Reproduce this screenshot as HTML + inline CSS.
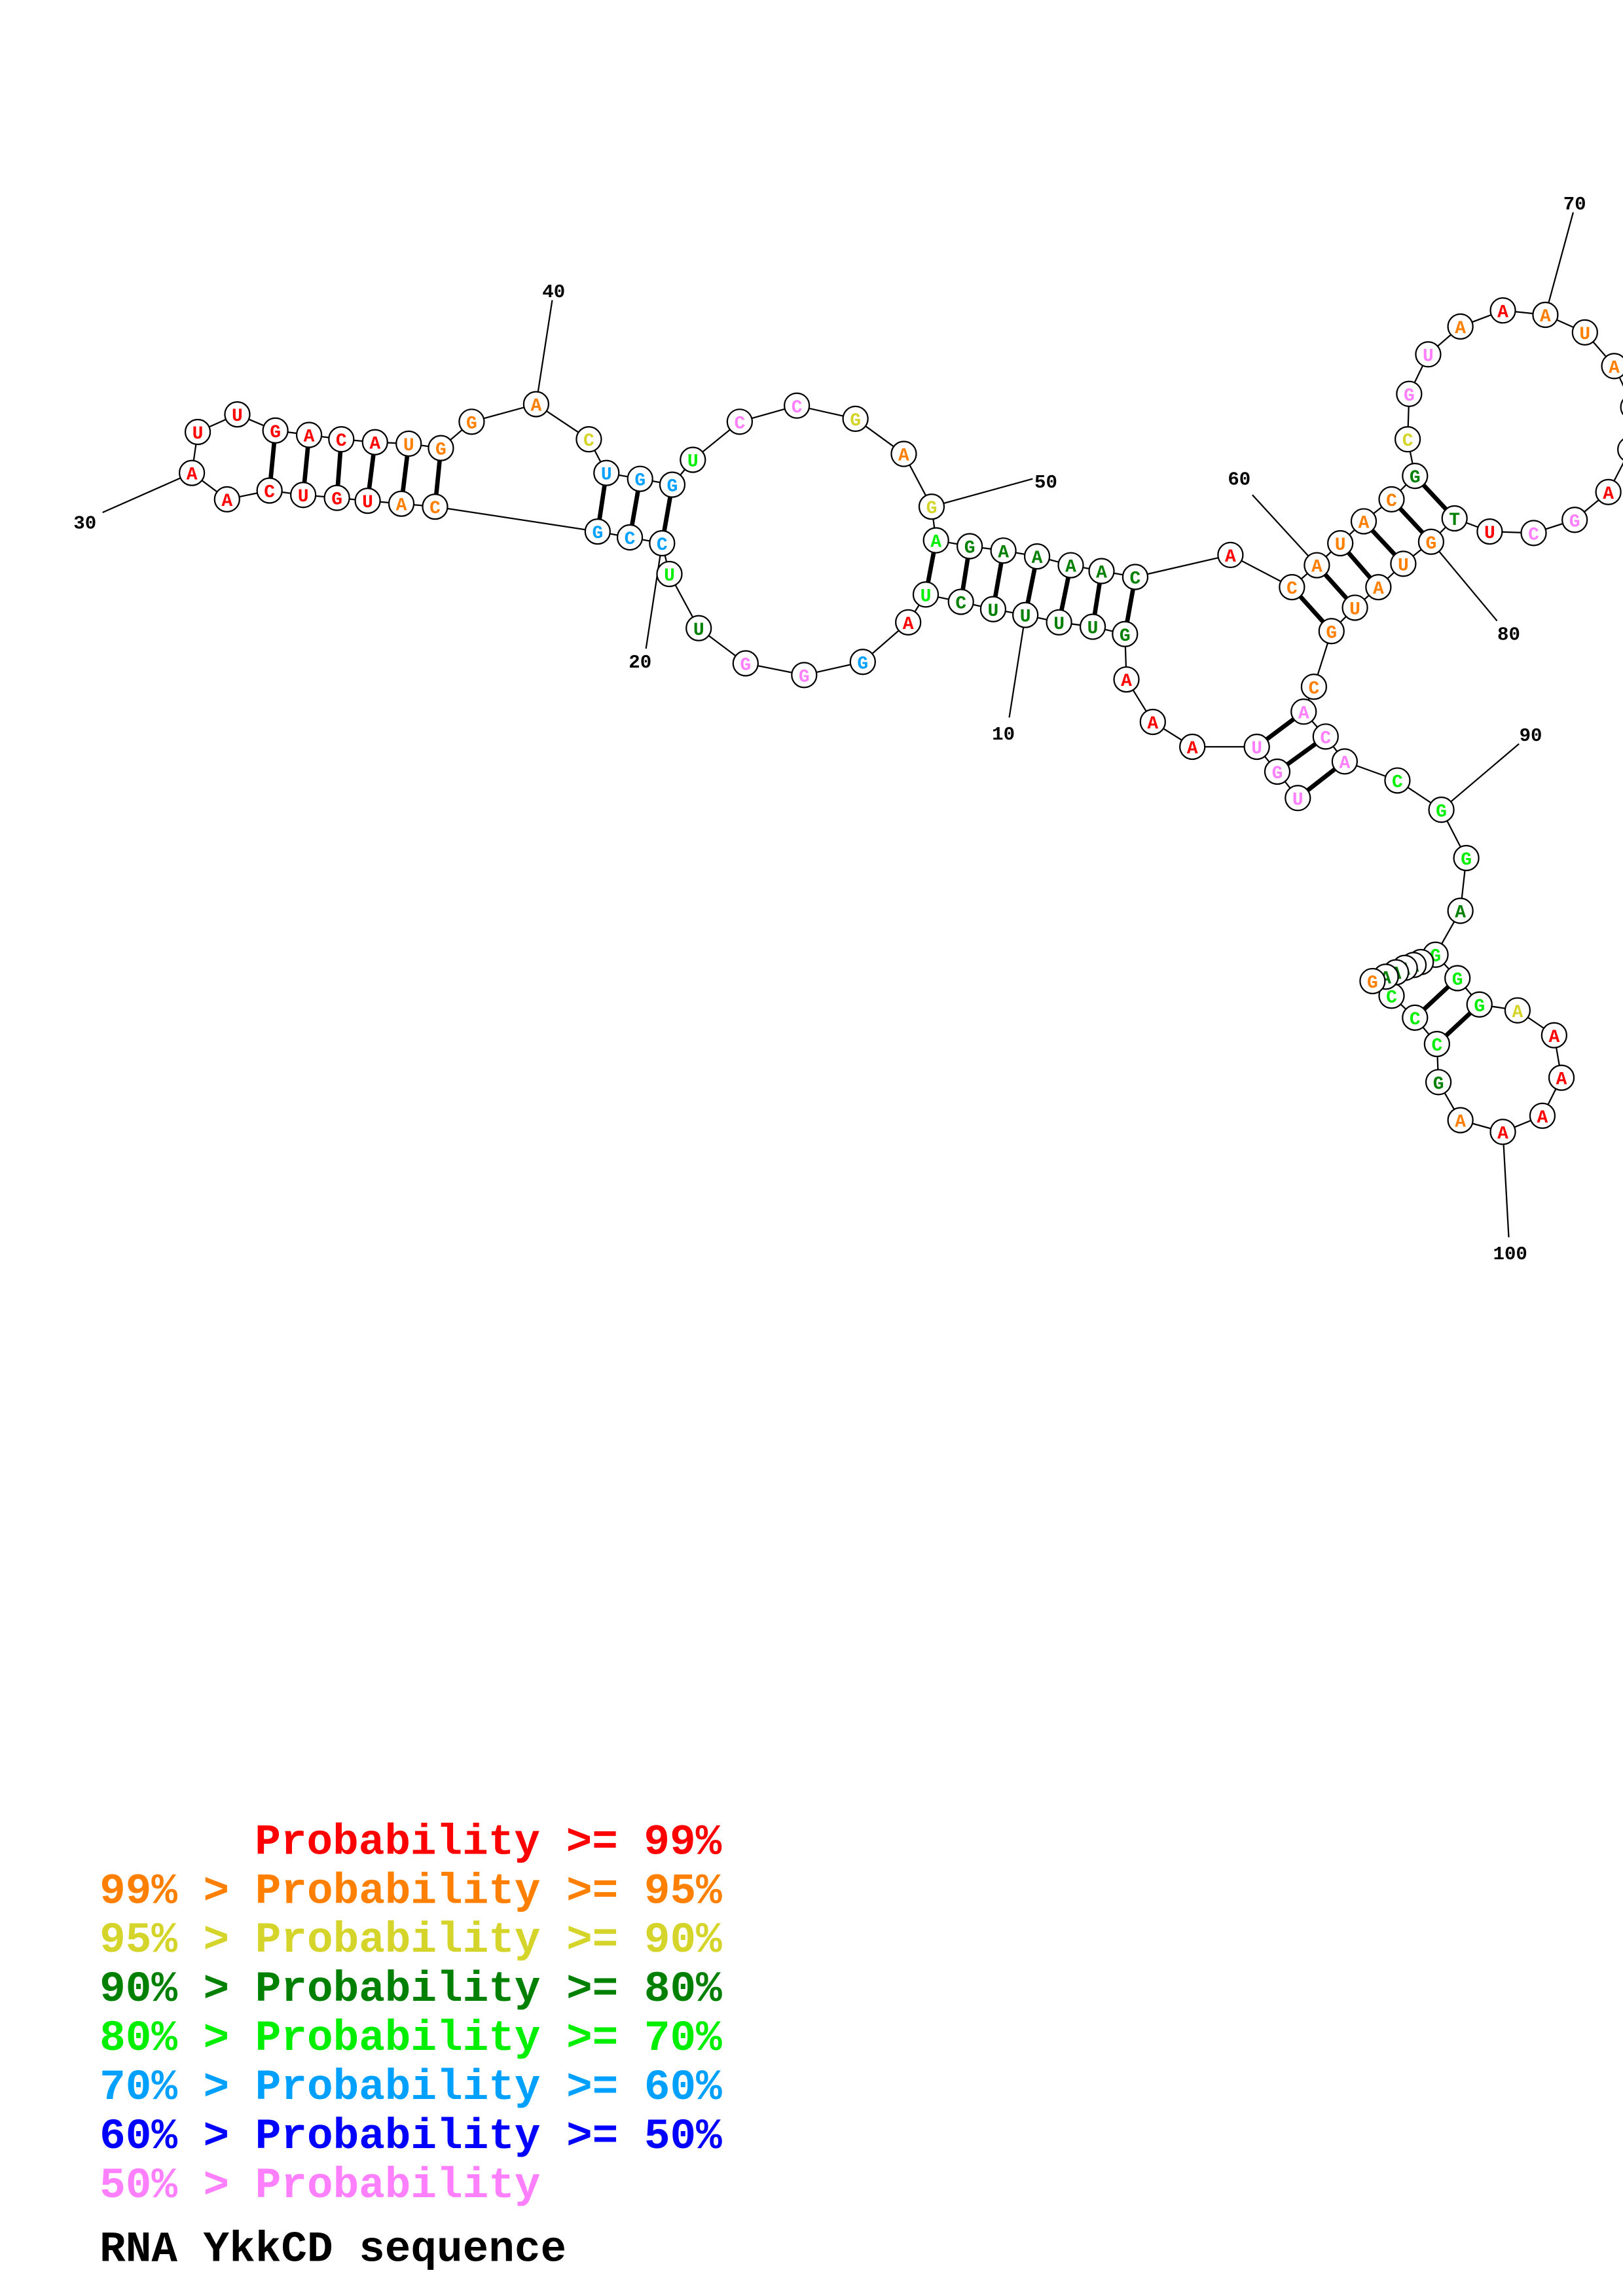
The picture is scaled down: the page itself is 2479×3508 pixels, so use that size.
<!DOCTYPE html>
<html><head><meta charset="utf-8"><style>
html,body{margin:0;padding:0;background:#fff}
svg{display:block}
.n circle{fill:#fff;stroke:#000;stroke-width:1}
.n text{font-family:"Liberation Mono",monospace;font-weight:bold;font-size:12.5px;text-anchor:middle}
.lb{font-family:"Liberation Mono",monospace;font-weight:bold;font-size:13px;fill:#000;text-anchor:middle}
.lg{font-family:"Liberation Mono",monospace;font-weight:bold;font-size:29.5px}
.R{fill:#ff0000}.O{fill:#ff8000}.Y{fill:#d4d42a}.D{fill:#008000}.L{fill:#00ee00}.S{fill:#00a0ff}.P{fill:#ff80ff}.B{fill:#0000ff}
</style></head><body>
<svg width="2479" height="3508" viewBox="0 0 1108 1568" preserveAspectRatio="none" xmlns="http://www.w3.org/2000/svg">
<!-- label lines -->
<g stroke="#000" stroke-width="1" fill="none">
<line x1="131" y1="323" x2="70" y2="350"/>
<line x1="366" y1="276" x2="377" y2="205"/>
<line x1="452" y1="371" x2="441" y2="443"/>
<line x1="636" y1="346" x2="705" y2="327"/>
<line x1="700" y1="420" x2="689" y2="490"/>
<line x1="899" y1="386" x2="855" y2="338"/>
<line x1="1055" y1="215" x2="1074" y2="145"/>
<line x1="977" y1="370" x2="1022" y2="424"/>
<line x1="984" y1="553" x2="1037" y2="508"/>
<line x1="1026" y1="773" x2="1030" y2="845"/>
<!-- backbone -->
<polyline points="886,545 872,527 858,510 814,510 787,493 769,464 768,433 746,428 723,425 700,420 678,416 656,411 632,406 620,425 589,452 549,461 509,453 477,429 457,392 452,371 430,367 408,363 297,346 274,344 251,342 230,340 207,338 184,335 155,341 131,323 135,295 162,283 188,294 211,297 233,300 256,302 279,303 301,306 322,288 366,276 402,300 414,323 437,327 459,331 473,314 505,288 544,277 584,286 617,310 636,346 639,369 662,373 685,376 708,380 731,386 752,390 775,394 840,379 882,401 899,386 915,371 931,356 950,341 966,325 961,300 962,269 975,242 997,223 1026,212 1055,215 1082,227 1102,250 1115,278 1113,307 1098,336 1075,355 1047,364 1017,363 993,354 977,370 958,385 941,401 925,415 909,431 897,469 890,486 905,503 918,520 954,533 984,553 1001,586 997,622 980,652 995,668 1010,686 1036,690 1061,707 1066,736 1053,762 1026,773 997,765 982,739 981,713 966,695 950,680 937,670"/>
</g>
<!-- pairs -->
<g stroke="#000" stroke-width="3">
<line x1="188" y1="294" x2="184" y2="335"/><line x1="211" y1="297" x2="207" y2="338"/><line x1="233" y1="300" x2="230" y2="340"/><line x1="256" y1="302" x2="251" y2="342"/><line x1="279" y1="303" x2="274" y2="344"/><line x1="301" y1="306" x2="297" y2="346"/>
<line x1="414" y1="323" x2="408" y2="363"/><line x1="437" y1="327" x2="430" y2="367"/><line x1="459" y1="331" x2="452" y2="371"/>
<line x1="639" y1="369" x2="632" y2="406"/><line x1="662" y1="373" x2="656" y2="411"/><line x1="685" y1="376" x2="678" y2="416"/><line x1="708" y1="380" x2="700" y2="420"/><line x1="731" y1="386" x2="723" y2="425"/><line x1="752" y1="390" x2="746" y2="428"/><line x1="775" y1="394" x2="768" y2="433"/>
<line x1="882" y1="401" x2="909" y2="431"/><line x1="899" y1="386" x2="925" y2="415"/><line x1="915" y1="371" x2="941" y2="401"/><line x1="931" y1="356" x2="958" y2="385"/><line x1="950" y1="341" x2="977" y2="370"/><line x1="966" y1="325" x2="993" y2="354"/>
<line x1="858" y1="510" x2="890" y2="486"/><line x1="872" y1="527" x2="905" y2="503"/><line x1="886" y1="545" x2="918" y2="520"/>
<line x1="966" y1="695" x2="995" y2="668"/><line x1="981" y1="713" x2="1010" y2="686"/>
</g>
<g class="n">
<circle cx="1115" cy="278" r="8.5"/><circle cx="1113" cy="307" r="8.5"/>
<circle cx="131" cy="323" r="8.5"/><text x="131" y="327.5" class="R">A</text>
<circle cx="135" cy="295" r="8.5"/><text x="135" y="299.5" class="R">U</text>
<circle cx="162" cy="283" r="8.5"/><text x="162" y="287.5" class="R">U</text>
<circle cx="188" cy="294" r="8.5"/><text x="188" y="298.5" class="R">G</text>
<circle cx="211" cy="297" r="8.5"/><text x="211" y="301.5" class="R">A</text>
<circle cx="233" cy="300" r="8.5"/><text x="233" y="304.5" class="R">C</text>
<circle cx="256" cy="302" r="8.5"/><text x="256" y="306.5" class="R">A</text>
<circle cx="279" cy="303" r="8.5"/><text x="279" y="307.5" class="O">U</text>
<circle cx="301" cy="306" r="8.5"/><text x="301" y="310.5" class="O">G</text>
<circle cx="322" cy="288" r="8.5"/><text x="322" y="292.5" class="O">G</text>
<circle cx="366" cy="276" r="8.5"/><text x="366" y="280.5" class="O">A</text>
<circle cx="402" cy="300" r="8.5"/><text x="402" y="304.5" class="Y">C</text>
<circle cx="414" cy="323" r="8.5"/><text x="414" y="327.5" class="S">U</text>
<circle cx="437" cy="327" r="8.5"/><text x="437" y="331.5" class="S">G</text>
<circle cx="459" cy="331" r="8.5"/><text x="459" y="335.5" class="S">G</text>
<circle cx="473" cy="314" r="8.5"/><text x="473" y="318.5" class="L">U</text>
<circle cx="505" cy="288" r="8.5"/><text x="505" y="292.5" class="P">C</text>
<circle cx="544" cy="277" r="8.5"/><text x="544" y="281.5" class="P">C</text>
<circle cx="584" cy="286" r="8.5"/><text x="584" y="290.5" class="Y">G</text>
<circle cx="617" cy="310" r="8.5"/><text x="617" y="314.5" class="O">A</text>
<circle cx="636" cy="346" r="8.5"/><text x="636" y="350.5" class="Y">G</text>
<circle cx="639" cy="369" r="8.5"/><text x="639" y="373.5" class="L">A</text>
<circle cx="662" cy="373" r="8.5"/><text x="662" y="377.5" class="D">G</text>
<circle cx="685" cy="376" r="8.5"/><text x="685" y="380.5" class="D">A</text>
<circle cx="708" cy="380" r="8.5"/><text x="708" y="384.5" class="D">A</text>
<circle cx="731" cy="386" r="8.5"/><text x="731" y="390.5" class="D">A</text>
<circle cx="752" cy="390" r="8.5"/><text x="752" y="394.5" class="D">A</text>
<circle cx="775" cy="394" r="8.5"/><text x="775" y="398.5" class="D">C</text>
<circle cx="840" cy="379" r="8.5"/><text x="840" y="383.5" class="R">A</text>
<circle cx="882" cy="401" r="8.5"/><text x="882" y="405.5" class="O">C</text>
<circle cx="899" cy="386" r="8.5"/><text x="899" y="390.5" class="O">A</text>
<circle cx="915" cy="371" r="8.5"/><text x="915" y="375.5" class="O">U</text>
<circle cx="931" cy="356" r="8.5"/><text x="931" y="360.5" class="O">A</text>
<circle cx="950" cy="341" r="8.5"/><text x="950" y="345.5" class="O">C</text>
<circle cx="966" cy="325" r="8.5"/><text x="966" y="329.5" class="D">G</text>
<circle cx="961" cy="300" r="8.5"/><text x="961" y="304.5" class="Y">C</text>
<circle cx="962" cy="269" r="8.5"/><text x="962" y="273.5" class="P">G</text>
<circle cx="975" cy="242" r="8.5"/><text x="975" y="246.5" class="P">U</text>
<circle cx="997" cy="223" r="8.5"/><text x="997" y="227.5" class="O">A</text>
<circle cx="1026" cy="212" r="8.5"/><text x="1026" y="216.5" class="R">A</text>
<circle cx="1055" cy="215" r="8.5"/><text x="1055" y="219.5" class="O">A</text>
<circle cx="1082" cy="227" r="8.5"/><text x="1082" y="231.5" class="O">U</text>
<circle cx="1102" cy="250" r="8.5"/><text x="1102" y="254.5" class="O">A</text>
<circle cx="1098" cy="336" r="8.5"/><text x="1098" y="340.5" class="R">A</text>
<circle cx="1075" cy="355" r="8.5"/><text x="1075" y="359.5" class="P">G</text>
<circle cx="1047" cy="364" r="8.5"/><text x="1047" y="368.5" class="P">C</text>
<circle cx="1017" cy="363" r="8.5"/><text x="1017" y="367.5" class="R">U</text>
<circle cx="993" cy="354" r="8.5"/><text x="993" y="358.5" class="D">T</text>
<circle cx="977" cy="370" r="8.5"/><text x="977" y="374.5" class="O">G</text>
<circle cx="958" cy="385" r="8.5"/><text x="958" y="389.5" class="O">U</text>
<circle cx="941" cy="401" r="8.5"/><text x="941" y="405.5" class="O">A</text>
<circle cx="925" cy="415" r="8.5"/><text x="925" y="419.5" class="O">U</text>
<circle cx="909" cy="431" r="8.5"/><text x="909" y="435.5" class="O">G</text>
<circle cx="897" cy="469" r="8.5"/><text x="897" y="473.5" class="O">C</text>
<circle cx="890" cy="486" r="8.5"/><text x="890" y="490.5" class="P">A</text>
<circle cx="905" cy="503" r="8.5"/><text x="905" y="507.5" class="P">C</text>
<circle cx="918" cy="520" r="8.5"/><text x="918" y="524.5" class="P">A</text>
<circle cx="954" cy="533" r="8.5"/><text x="954" y="537.5" class="L">C</text>
<circle cx="984" cy="553" r="8.5"/><text x="984" y="557.5" class="L">G</text>
<circle cx="1001" cy="586" r="8.5"/><text x="1001" y="590.5" class="L">G</text>
<circle cx="997" cy="622" r="8.5"/><text x="997" y="626.5" class="D">A</text>
<circle cx="995" cy="668" r="8.5"/><text x="995" y="672.5" class="L">G</text>
<circle cx="1010" cy="686" r="8.5"/><text x="1010" y="690.5" class="L">G</text>
<circle cx="1036" cy="690" r="8.5"/><text x="1036" y="694.5" class="Y">A</text>
<circle cx="1061" cy="707" r="8.5"/><text x="1061" y="711.5" class="R">A</text>
<circle cx="1066" cy="736" r="8.5"/><text x="1066" y="740.5" class="R">A</text>
<circle cx="1053" cy="762" r="8.5"/><text x="1053" y="766.5" class="R">A</text>
<circle cx="1026" cy="773" r="8.5"/><text x="1026" y="777.5" class="R">A</text>
<circle cx="997" cy="765" r="8.5"/><text x="997" y="769.5" class="O">A</text>
<circle cx="982" cy="739" r="8.5"/><text x="982" y="743.5" class="D">G</text>
<circle cx="981" cy="713" r="8.5"/><text x="981" y="717.5" class="L">C</text>
<circle cx="966" cy="695" r="8.5"/><text x="966" y="699.5" class="L">C</text>
<circle cx="950" cy="680" r="8.5"/><text x="950" y="684.5" class="L">C</text>
<circle cx="980" cy="652" r="8.5"/><text x="980" y="656.5" class="L">G</text>
<circle cx="970" cy="657" r="8.5"/><text x="970" y="661.5" class="D">A</text>
<circle cx="965" cy="659" r="8.5"/><text x="965" y="663.5" class="D">A</text>
<circle cx="959" cy="661" r="8.5"/><text x="959" y="665.5" class="D">A</text>
<circle cx="953" cy="664" r="8.5"/><text x="953" y="668.5" class="D">A</text>
<circle cx="946" cy="667" r="8.5"/><text x="946" y="671.5" class="D">A</text>
<circle cx="937" cy="670" r="8.5"/><text x="937" y="674.5" class="O">G</text>
<circle cx="886" cy="545" r="8.5"/><text x="886" y="549.5" class="P">U</text>
<circle cx="872" cy="527" r="8.5"/><text x="872" y="531.5" class="P">G</text>
<circle cx="858" cy="510" r="8.5"/><text x="858" y="514.5" class="P">U</text>
<circle cx="814" cy="510" r="8.5"/><text x="814" y="514.5" class="R">A</text>
<circle cx="787" cy="493" r="8.5"/><text x="787" y="497.5" class="R">A</text>
<circle cx="769" cy="464" r="8.5"/><text x="769" y="468.5" class="R">A</text>
<circle cx="768" cy="433" r="8.5"/><text x="768" y="437.5" class="D">G</text>
<circle cx="746" cy="428" r="8.5"/><text x="746" y="432.5" class="D">U</text>
<circle cx="723" cy="425" r="8.5"/><text x="723" y="429.5" class="D">U</text>
<circle cx="700" cy="420" r="8.5"/><text x="700" y="424.5" class="D">U</text>
<circle cx="678" cy="416" r="8.5"/><text x="678" y="420.5" class="D">U</text>
<circle cx="656" cy="411" r="8.5"/><text x="656" y="415.5" class="D">C</text>
<circle cx="632" cy="406" r="8.5"/><text x="632" y="410.5" class="L">U</text>
<circle cx="620" cy="425" r="8.5"/><text x="620" y="429.5" class="R">A</text>
<circle cx="589" cy="452" r="8.5"/><text x="589" y="456.5" class="S">G</text>
<circle cx="549" cy="461" r="8.5"/><text x="549" y="465.5" class="P">G</text>
<circle cx="509" cy="453" r="8.5"/><text x="509" y="457.5" class="P">G</text>
<circle cx="477" cy="429" r="8.5"/><text x="477" y="433.5" class="D">U</text>
<circle cx="457" cy="392" r="8.5"/><text x="457" y="396.5" class="L">U</text>
<circle cx="452" cy="371" r="8.5"/><text x="452" y="375.5" class="S">C</text>
<circle cx="430" cy="367" r="8.5"/><text x="430" y="371.5" class="S">C</text>
<circle cx="408" cy="363" r="8.5"/><text x="408" y="367.5" class="S">G</text>
<circle cx="297" cy="346" r="8.5"/><text x="297" y="350.5" class="O">C</text>
<circle cx="274" cy="344" r="8.5"/><text x="274" y="348.5" class="O">A</text>
<circle cx="251" cy="342" r="8.5"/><text x="251" y="346.5" class="R">U</text>
<circle cx="230" cy="340" r="8.5"/><text x="230" y="344.5" class="R">G</text>
<circle cx="207" cy="338" r="8.5"/><text x="207" y="342.5" class="R">U</text>
<circle cx="184" cy="335" r="8.5"/><text x="184" y="339.5" class="R">C</text>
<circle cx="155" cy="341" r="8.5"/><text x="155" y="345.5" class="R">A</text>
</g>
<g class="lb">
<text x="58" y="361">30</text>
<text x="378" y="203">40</text>
<text x="437" y="456">20</text>
<text x="714" y="333">50</text>
<text x="685" y="505">10</text>
<text x="846" y="331">60</text>
<text x="1075" y="143">70</text>
<text x="1030" y="437">80</text>
<text x="1045" y="506">90</text>
<text x="1031" y="860">100</text>
</g>
<g class="lg">
<text x="174" y="1266" class="R">Probability &gt;= 99%</text>
<text x="68" y="1299.5" class="O">99% &gt; Probability &gt;= 95%</text>
<text x="68" y="1333" class="Y">95% &gt; Probability &gt;= 90%</text>
<text x="68" y="1366.5" class="D">90% &gt; Probability &gt;= 80%</text>
<text x="68" y="1400" class="L">80% &gt; Probability &gt;= 70%</text>
<text x="68" y="1433.5" class="S">70% &gt; Probability &gt;= 60%</text>
<text x="68" y="1467" class="B">60% &gt; Probability &gt;= 50%</text>
<text x="68" y="1500.5" class="P">50% &gt; Probability</text>
<text x="68" y="1544" fill="#000">RNA YkkCD sequence</text>
</g>
</svg>
</body></html>
